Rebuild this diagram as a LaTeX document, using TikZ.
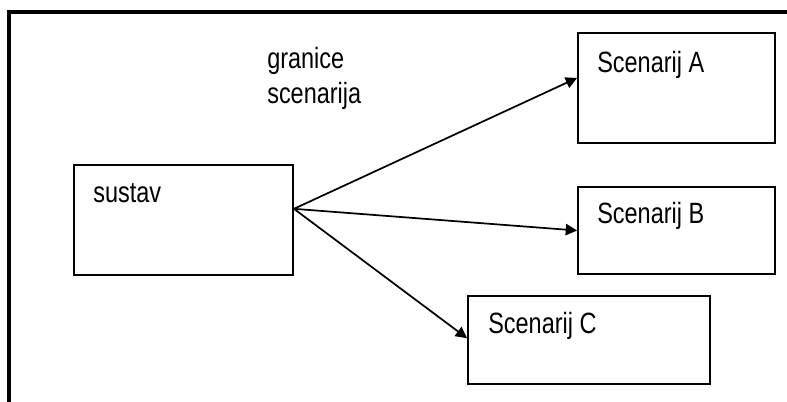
\documentclass[tikz,border=0pt]{standalone}
\usepackage{fontspec}
\setmainfont[FakeStretch=0.8]{Liberation Sans}
\usetikzlibrary{arrows.meta,fit,calc}
\tikzset{
  box/.style={draw=black, line width=1.4pt, inner sep=0pt, fill=white},
  txt/.style={inner sep=0pt, font=\fontsize{22pt}{26.25pt}\selectfont},
  conn/.style={draw=black, line width=1.3pt, -{Triangle[length=8.5pt,width=8.5pt]}},
  frame/.style={draw=black, line width=3pt}
}
\begin{document}
\begin{tikzpicture}[x=0.75pt,y=-0.75pt]
\useasboundingbox (0,0) rectangle (787,401);
\fill[white] (0,0) rectangle (787,401);
\draw[frame] (8.5,405) -- (8.5,12) -- (790,12);
% boxes
\node[box, fit={(74,165) (293,275)}] (sustav) {};
\node[box, fit={(578,33) (775,143)}] (A) {};
\node[box, fit={(578,187) (775,274)}] (B) {};
\node[box, fit={(468,296) (710,384)}] (C) {};
% labels
\node[txt, anchor=base west] (tsustav) at (93,202) {sustav};
\node[txt, anchor=base west] (tA) at (597,72) {Scenarij A};
\node[txt, anchor=base west] (tB) at (597,223) {Scenarij B};
\node[txt, anchor=base west] (tC) at (488,333) {Scenarij C};
\node[txt, anchor=base west, align=left] (granice) at (267,103) {granice\\scenarija};
% connectors
\coordinate (src) at ($(sustav.north east)!0.4!(sustav.south east)$);
\coordinate (ta) at ($(A.north west)!0.41!(A.south west)$);
\coordinate (tb) at ($(B.north west)!0.5!(B.south west)$);
\coordinate (tc) at ($(C.north west)!0.48!(C.south west)$);
\draw[conn] (src) -- (ta);
\draw[conn] (src) -- (tb);
\draw[conn] (src) -- (tc);
\end{tikzpicture}
\end{document}
